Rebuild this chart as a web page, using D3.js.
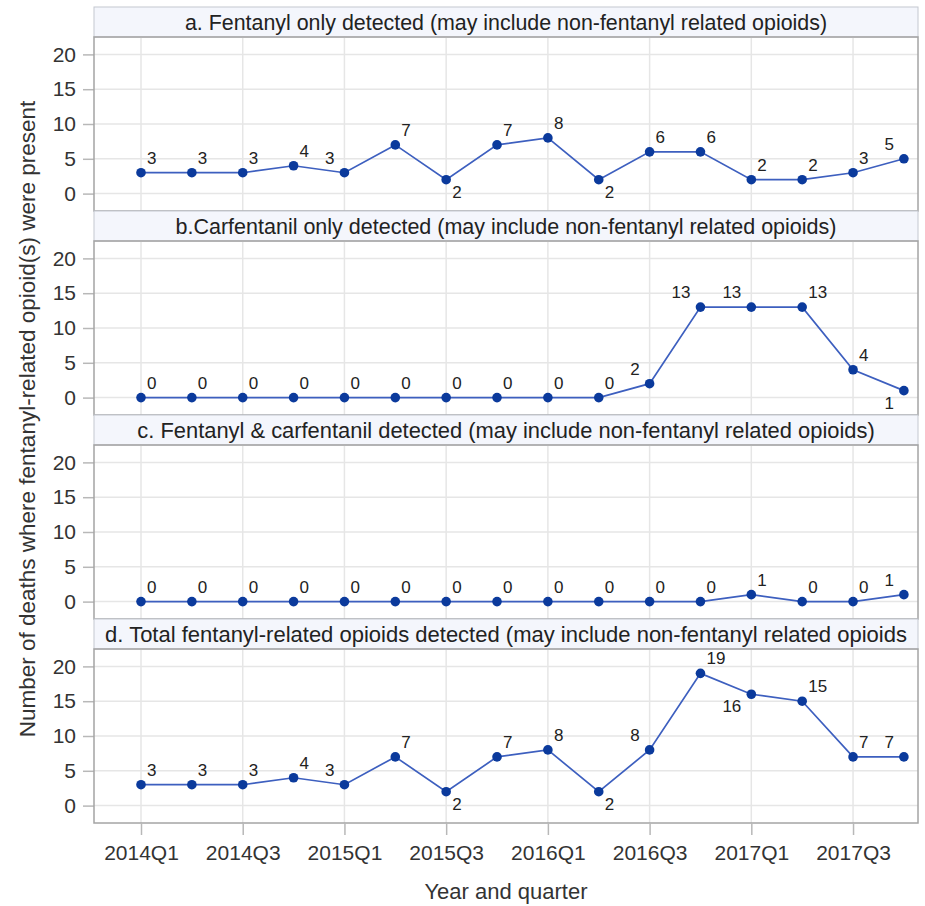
<!DOCTYPE html>
<html>
<head>
<meta charset="utf-8">
<script src="https://cdn.jsdelivr.net/npm/d3@7"></script>
<style>
  html, body { margin: 0; padding: 0; background: #fff; }
  svg { display: block; font-family: "Liberation Sans", Arial, sans-serif; }
</style>
</head>
<body>
<svg id="chart" width="925" height="906"></svg>
<script>
// Quarterly counts of deaths where fentanyl-related opioids were present
const quarters = ["2014Q1","2014Q2","2014Q3","2014Q4","2015Q1","2015Q2","2015Q3","2015Q4",
                  "2016Q1","2016Q2","2016Q3","2016Q4","2017Q1","2017Q2","2017Q3","2017Q4"];
const tickQuarters = ["2014Q1","2014Q3","2015Q1","2015Q3","2016Q1","2016Q3","2017Q1","2017Q3"];
const yTicks = [0, 5, 10, 15, 20];

const fentanylOnly    = [3, 3, 3, 4, 3, 7, 2, 7, 8, 2, 6, 6, 2, 2, 3, 5];
const carfentanilOnly = [0, 0, 0, 0, 0, 0, 0, 0, 0, 0, 2, 13, 13, 13, 4, 1];
const bothDetected    = [0, 0, 0, 0, 0, 0, 0, 0, 0, 0, 0, 0, 1, 0, 0, 1];
const totalDetected   = [3, 3, 3, 4, 3, 7, 2, 7, 8, 2, 8, 19, 16, 15, 7, 7];

const panelTitles = [
  "a. Fentanyl only detected (may include non-fentanyl related opioids)",
  "b.Carfentanil only detected (may include non-fentanyl related opioids)",
  "c. Fentanyl & carfentanil detected (may include non-fentanyl related opioids)",
  "d. Total fentanyl-related opioids detected (may include non-fentanyl related opioids"
];

// Where each value label sits relative to its point (u/l = above/below, r/l = right/left)
const labelSpotsA = ["ur","ur","ur","ur","ul","ur","lr","ur","ur","lr","ur","ur","ur","ur","ur","ul"];
const labelSpotsB = ["ur","ur","ur","ur","ur","ur","ur","ur","ur","ur","ul","ul","ul","ur","ur","ll"];
const labelSpotsC = ["ur","ur","ur","ur","ur","ur","ur","ur","ur","ur","ur","ur","ur","ur","ur","ul"];
const labelSpotsD = ["ur","ur","ur","ur","ul","ur","lr","ur","ur","lr","ul","ur","ll","ur","ur","ul"];

const panels = [
  { title: panelTitles[0], values: fentanylOnly,    spots: labelSpotsA, titleSize: 21.4 },
  { title: panelTitles[1], values: carfentanilOnly, spots: labelSpotsB, titleSize: 21.5 },
  { title: panelTitles[2], values: bothDetected,    spots: labelSpotsC, titleSize: 21.9 },
  { title: panelTitles[3], values: totalDetected,   spots: labelSpotsD, titleSize: 22 }
];

const frameLeft = 94, frameRight = 918, frameTop = 7;
const headerH = 30, plotH = 174, panelH = headerH + plotH;

const lineColor = "#3d5fbf";
const markerColor = "#0b3a9c";
const frameColor = "#a4a4a4";
const gridColor = "#e6e6e6";
const headerFill = "#f4f6fc";

const svg = d3.select("#chart");

const x = d3.scalePoint()
  .domain(quarters)
  .range([141, 141 + 50.86 * (quarters.length - 1)]);

panels.forEach((p, i) => {
  const hTop = frameTop + i * panelH;
  const pTop = hTop + headerH;
  const pBot = pTop + plotH;

  const y = d3.scaleLinear().domain([-2.5, 22.5]).range([pBot, pTop]);

  const g = svg.append("g");

  // header strip
  g.append("rect")
    .attr("x", frameLeft).attr("y", hTop)
    .attr("width", frameRight - frameLeft).attr("height", headerH)
    .attr("fill", headerFill).attr("stroke", "#c4c8d0").attr("stroke-width", 1);
  g.append("text")
    .attr("x", (frameLeft + frameRight) / 2).attr("y", hTop + 22.5)
    .attr("text-anchor", "middle")
    .attr("font-size", p.titleSize).attr("fill", "#222")
    .text(p.title);

  // grid lines
  g.append("g").selectAll("line").data(yTicks).join("line")
    .attr("x1", frameLeft).attr("x2", frameRight)
    .attr("y1", d => y(d)).attr("y2", d => y(d))
    .attr("stroke", gridColor).attr("stroke-width", 1.5);
  g.append("g").selectAll("line").data(tickQuarters).join("line")
    .attr("x1", d => x(d)).attr("x2", d => x(d))
    .attr("y1", pTop).attr("y2", pBot)
    .attr("stroke", gridColor).attr("stroke-width", 1.5);

  // y axis
  const yAxis = g.append("g")
    .attr("transform", `translate(${frameLeft},0)`)
    .call(d3.axisLeft(y).tickValues(yTicks).tickSize(11).tickPadding(7));
  yAxis.select(".domain").remove();
  yAxis.selectAll(".tick line").attr("stroke", "#b8b8b8").attr("stroke-width", 1.5);
  yAxis.selectAll(".tick text")
    .attr("font-size", 21).attr("fill", "#333")
    .attr("font-family", "'Liberation Sans', Arial, sans-serif");

  // plot frame
  g.append("rect")
    .attr("x", frameLeft).attr("y", pTop)
    .attr("width", frameRight - frameLeft).attr("height", plotH)
    .attr("fill", "none").attr("stroke", frameColor).attr("stroke-width", 1.5);

  // series line
  const line = d3.line()
    .x((d, k) => x(quarters[k]))
    .y(d => y(d));
  g.append("path")
    .datum(p.values)
    .attr("d", line)
    .attr("fill", "none").attr("stroke", lineColor).attr("stroke-width", 1.7);

  // markers
  g.append("g").selectAll("circle").data(p.values).join("circle")
    .attr("cx", (d, k) => x(quarters[k]))
    .attr("cy", d => y(d))
    .attr("r", 4.8)
    .attr("fill", markerColor);

  // value labels
  g.append("g").selectAll("text").data(p.values).join("text")
    .attr("x", (d, k) => x(quarters[k]) + (p.spots[k][1] === "r" ? 6 : -10))
    .attr("y", (d, k) => y(d) + (p.spots[k][0] === "u" ? -9 : 18))
    .attr("text-anchor", (d, k) => p.spots[k][1] === "r" ? "start" : "end")
    .attr("font-size", 17).attr("fill", "#222")
    .text(d => d);

  // x axis on the bottom panel only
  if (i === panels.length - 1) {
    const xAxis = g.append("g")
      .attr("transform", `translate(0,${pBot})`)
      .call(d3.axisBottom(x).tickValues(tickQuarters).tickSize(12).tickPadding(10));
    xAxis.select(".domain").remove();
    xAxis.selectAll(".tick line").attr("stroke", "#b8b8b8").attr("stroke-width", 1.5);
    xAxis.selectAll(".tick text")
      .attr("font-size", 21).attr("fill", "#333")
      .attr("font-family", "'Liberation Sans', Arial, sans-serif");
  }
});

// axis titles
svg.append("text")
  .attr("x", (frameLeft + frameRight) / 2).attr("y", 899)
  .attr("text-anchor", "middle")
  .attr("font-size", 22).attr("fill", "#333")
  .text("Year and quarter");

svg.append("text")
  .attr("transform", `translate(35,${frameTop + panels.length * panelH / 2 + 4}) rotate(-90)`)
  .attr("text-anchor", "middle")
  .attr("font-size", 22.5).attr("fill", "#333")
  .text("Number of deaths where fentanyl-related opioid(s) were present");
</script>
</body>
</html>
